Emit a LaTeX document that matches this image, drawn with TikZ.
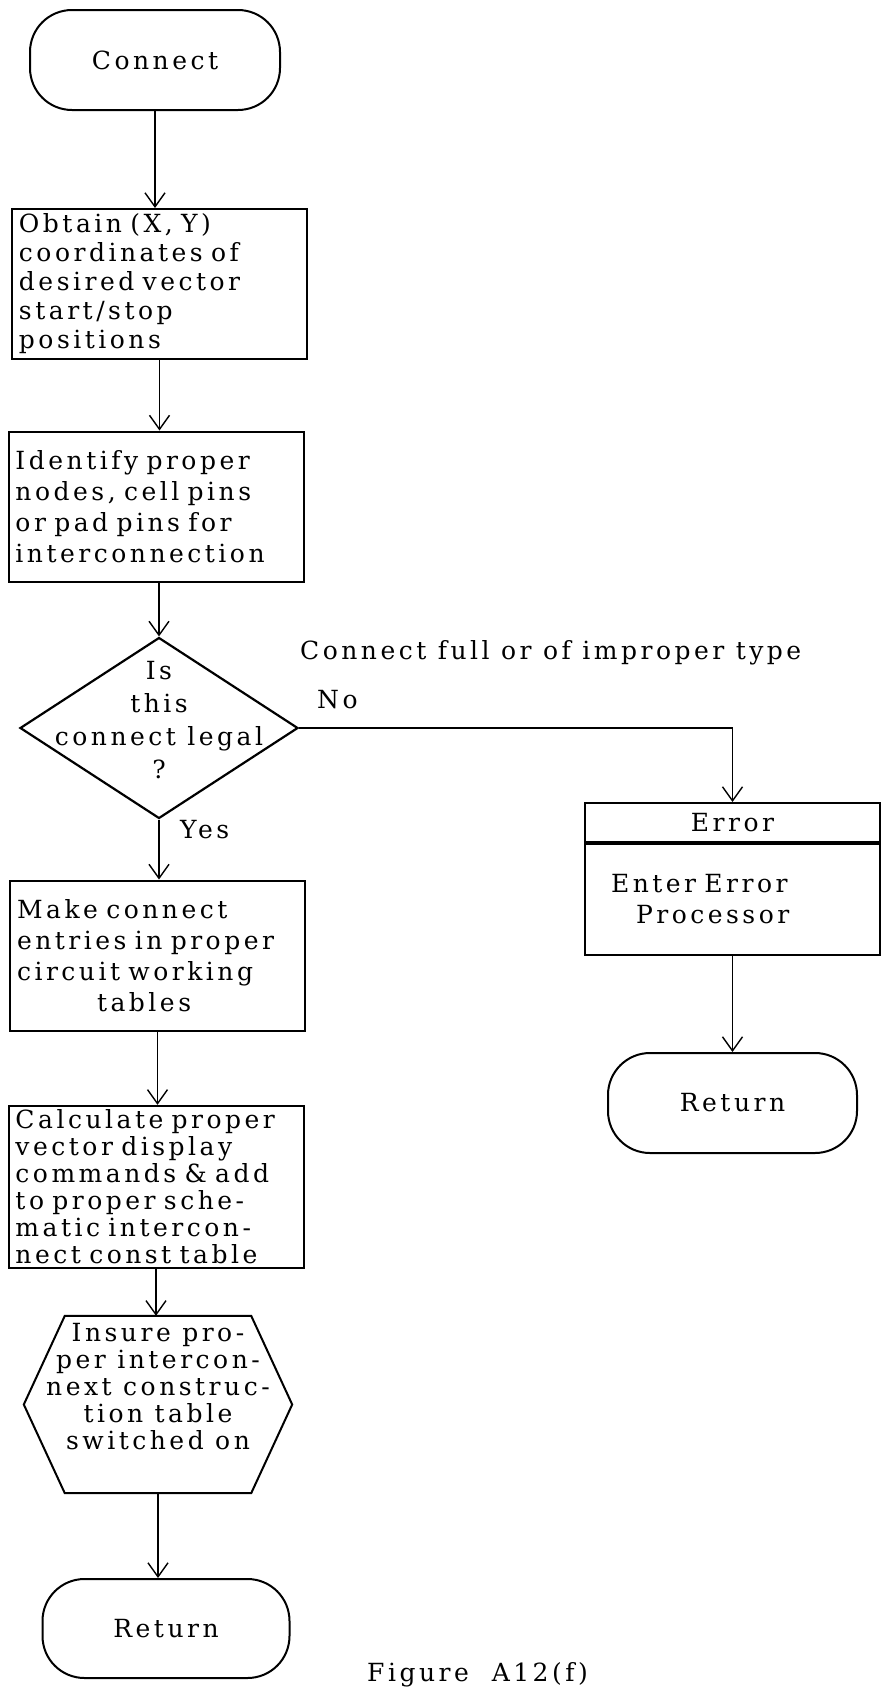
\documentclass[tikz,border=0pt]{standalone}
\usepackage{fontspec}
\newfontfamily\schreib{DejaVu Serif}[LetterSpace=14]
\usetikzlibrary{shapes.geometric,arrows.meta}

\begin{document}
\begin{tikzpicture}[x=1pt,y=-1pt,
  zeilen/.style={font={\schreib\fontsize{25}{#1}\selectfont}},
  zeilen/.default=31,
  txt/.style={zeilen, inner sep=0pt},
  kasten/.style={txt, draw, line width=2pt, text width=281pt, inner xsep=7pt, inner ysep=4pt, minimum height=150pt, align=left},
  ende/.style={txt, draw, line width=2pt, rounded corners=42pt, minimum width=250pt, minimum height=100pt},
  raute/.style={draw, diamond, line width=2.2pt, minimum width=278pt, minimum height=181pt, inner sep=0pt},
  sechseck/.style={minimum width=268pt, minimum height=177pt, inner sep=0pt},
  pfeil/.style={-{Straight Barb[length=14pt,width=20pt]}, line width=1.4pt}
]
  \useasboundingbox (0,0) rectangle (885,1689);
  % linke Spalte
  \node[ende] (start) at (155,60) {Connect};
  \node[kasten, zeilen=29] (obtain) at (159.5,284) {Obtain (X, Y)\\coordinates of\\desired vector\\start/stop\\positions};
  \node[kasten] (identify) at (156,506.5) {Identify proper\\nodes, cell pins\\or pad pins for\\interconnection};
  \node[raute] (legal) at (159,728) {};
  \node[txt, zeilen=33, align=center] (legaltext) at ([yshift=8pt]legal.center) {Is\\this\\connect legal\\?};
  \node[kasten] (make) at (157.5,955.5) {Make connect\\ entries in proper\\circuit working\\\hspace*{80pt}tables};
  \node[kasten, zeilen=27, minimum height=160pt] (calc) at (156,1187) {Calculate proper\\vector display\\commands \& add\\to proper sche-\\matic intercon-\\nect const table};
  \node[sechseck] (insure) at (158,1404.5) {};
  \draw[line width=2pt] ([xshift=41pt]insure.north west) -- ([xshift=-41pt]insure.north east) -- (insure.east)
    -- ([xshift=-41pt]insure.south east) -- ([xshift=41pt]insure.south west) -- (insure.west) -- cycle;
  \node[txt, zeilen=27, align=center] (insuretext) at ([yshift=18pt]insure.center) {Insure pro-\\per intercon-\\next construc-\\tion table\\switched on};
  \node[ende, minimum width=247pt, minimum height=99pt] (ret1) at (166,1628.5) {Return};
  % rechter Zweig
  \node[txt, draw, line width=2pt, minimum width=295pt, minimum height=39pt] (errhead) at (732.5,822.5) {Error};
  \node[kasten, text width=281pt, minimum height=111pt, anchor=north] (errbody) at (errhead.south) {\hspace*{19pt}Enter Error\\\hspace*{44pt}Processor};
  \node[ende, minimum width=249pt] (ret2) at (732.5,1103) {Return};
  % Beschriftungen
  \node[txt, anchor=west] (fulltype) at (300,653) {Connect full or of improper type};
  \node[txt, anchor=west] (no) at (317,700) {No};
  \node[txt, anchor=west] (yes) at (180,830) {Yes};
  \node[txt, anchor=base west] (caption) at (367,1681) {Figure \ A12(f)};
  % Pfeile
  \draw[pfeil] (start.south) -- (start.south |- obtain.north);
  \draw[pfeil] (obtain.south) -- (obtain.south |- identify.north);
  \draw[pfeil] (legal.north |- identify.south) -- (legal.north);
  \draw[pfeil] (legal.south) -- (legal.south |- make.north);
  \draw[pfeil] (make.south) -- (make.south |- calc.north);
  \draw[pfeil] (calc.south) -- (calc.south |- insure.north);
  \draw[pfeil] (insure.south) -- (insure.south |- ret1.north);
  \draw[pfeil] (legal.east) -| (errhead.north);
  \draw[pfeil] (errbody.south) -- (errbody.south |- ret2.north);
\end{tikzpicture}
\end{document}
